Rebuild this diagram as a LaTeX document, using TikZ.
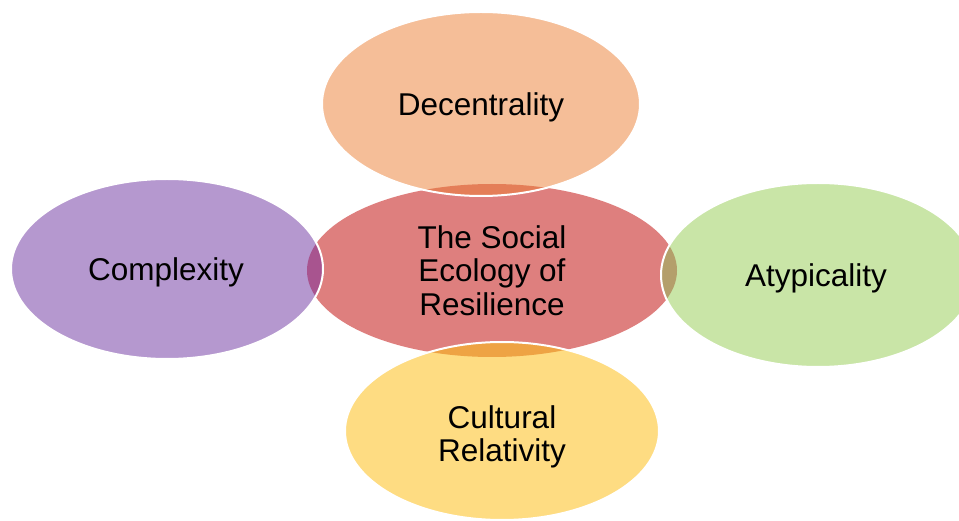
\documentclass[tikz,border=0pt]{standalone}
\usepackage{fontspec}
\setmainfont{Liberation Sans}
\usetikzlibrary{shapes.geometric}

% petal colours and their overlaps with the hub
\definecolor{hubfill}{HTML}{DE7F7E}
\definecolor{topfill}{HTML}{F5BE98}
\definecolor{leftfill}{HTML}{B598CF}
\definecolor{rightfill}{HTML}{C9E5A7}
\definecolor{bottomfill}{HTML}{FEDC82}
\definecolor{topmix}{HTML}{E47E58}
\definecolor{leftmix}{HTML}{A8548F}
\definecolor{rightmix}{HTML}{B49F6B}
\definecolor{bottommix}{HTML}{EEA344}

\tikzset{
  label text/.style={font=\fontsize{31.5}{33.5}\selectfont, text=black, align=center},
  rim/.style={draw=white, line width=2pt}
}

\begin{document}
\begin{tikzpicture}[x=1pt, y=-1pt]
  \useasboundingbox (0,0) rectangle (959,521);

  % hub ellipse
  \fill[hubfill] (492,270.5) ellipse [x radius=185, y radius=86.5];

  % petals: fill, overlap with the hub, then the white rim
  \foreach \cx/\cy/\rx/\ry/\col/\mix in {
      481/104/159/92/topfill/topmix,
      167/269/156/90/leftfill/leftmix,
      818/275/157/92/rightfill/rightmix,
      502/431/157/89/bottomfill/bottommix}{
    \fill[\col] (\cx,\cy) ellipse [x radius=\rx, y radius=\ry];
    \begin{scope}
      \clip (492,270.5) ellipse [x radius=185, y radius=86.5];
      \fill[\mix] (\cx,\cy) ellipse [x radius=\rx, y radius=\ry];
    \end{scope}
    \draw[rim] (\cx,\cy) ellipse [x radius=\rx, y radius=\ry];
  }

  % labels
  \node[label text] (hub) at (492,270.5) {The Social\\Ecology of\\Resilience};
  \node[label text] (decentrality) at (481,107) {Decentrality};
  \node[label text] (complexity) at (166,272) {Complexity};
  \node[label text] (atypicality) at (816,278) {Atypicality};
  \node[label text] (cultural) at (502,437) {Cultural\\Relativity};
\end{tikzpicture}
\end{document}
